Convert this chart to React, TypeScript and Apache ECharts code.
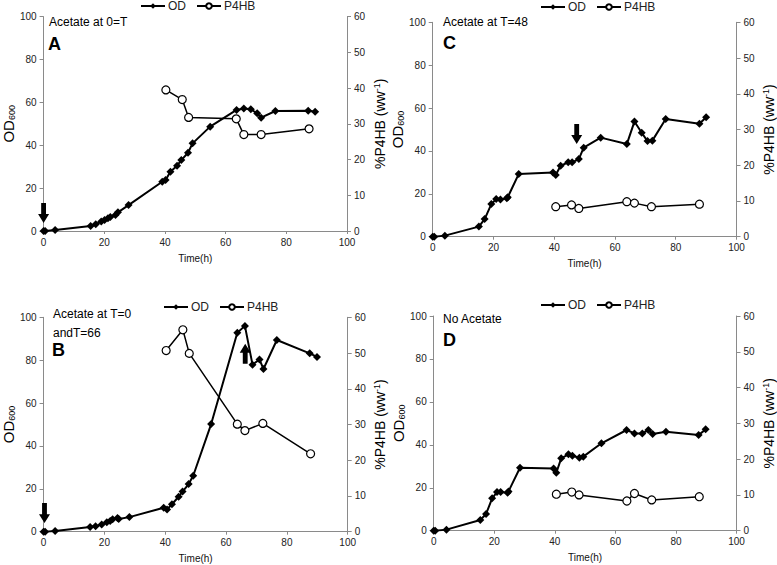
import React, { useEffect, useRef } from "react";
import * as echarts from "echarts";

// ---------- data ----------
const timeA = [0, 0.5, 3.8, 15.5, 17.2, 19, 20.1, 21.2, 22, 23.7, 24.5, 28, 39.1, 40.2, 41.8, 44, 45.4, 47.6, 49.1, 54.9, 63.6, 66, 68.3, 70.4, 71.7, 76.4, 87.2, 89.5];
const odA = [0, 0, 0.5, 2.3, 3.1, 4.4, 5.1, 5.9, 6.5, 7.5, 8.7, 12.1, 23, 23.8, 27.7, 30.5, 33.1, 36.5, 40.9, 48.7, 56.5, 57.2, 56.8, 54.9, 52.9, 56, 56.1, 55.7];
const pTimeA = [40.3, 45.7, 47.8, 63.5, 66, 71.7, 87.5];
const p4hbA = [39.5, 36.8, 31.8, 31.4, 27, 27, 28.6];

const timeB = [0, 0.5, 3.8, 15.3, 17.1, 19.1, 20.8, 21.9, 22.7, 24.3, 24.7, 28.2, 39.5, 40.6, 42.2, 44.4, 45.7, 47.7, 49.2, 55.1, 63.7, 66.2, 68.7, 71, 72.3, 76.7, 87.5, 89.9];
const odB = [0, 0, 0.3, 2.2, 2.5, 3.4, 4.4, 5, 5.8, 6.4, 5.9, 6.8, 11.2, 10.4, 12.8, 16.3, 18.7, 22.2, 26.1, 50.2, 92.8, 96, 77.9, 80.3, 75.9, 89.4, 83.2, 81.5];
const pTimeB = [40.3, 45.8, 47.9, 63.7, 66.2, 72.1, 87.8];
const p4hbB = [50.7, 56.5, 49.9, 30.1, 28.3, 30.3, 21.8];

const timeC = [0, 0.5, 4, 15.2, 17.1, 19.3, 20.9, 22.3, 24.4, 24.7, 28.3, 39.6, 40.5, 42.1, 44.6, 45.9, 48.1, 49.7, 55.3, 63.9, 66.4, 68.8, 70.7, 72.3, 76.7, 87.8, 90];
const odC = [0, 0, 0.5, 4.7, 8.2, 15.2, 17.6, 17.4, 17.9, 18.4, 29.2, 29.9, 28.8, 33.1, 34.7, 34.7, 36.2, 41.5, 46.2, 43.2, 53.7, 48.5, 44.6, 44.8, 54.9, 52.7, 55.7];
const pTimeC = [40.5, 45.7, 48.1, 63.9, 66.4, 72, 87.8];
const p4hbC = [8.4, 8.9, 7.9, 9.8, 9.4, 8.4, 9.1];

const timeD = [0, 0.5, 4.2, 15.4, 17.3, 19.3, 20.9, 22.1, 24.4, 24.7, 28.5, 39.6, 40.5, 42.1, 44.5, 45.8, 48.1, 49.4, 55.4, 63.7, 66.3, 68.9, 70.9, 72.3, 76.7, 87.5, 89.8];
const odD = [0, 0, 0.5, 5, 7.8, 15.1, 18, 18, 17.7, 18.3, 29.3, 29, 27, 33.7, 35.6, 34.9, 34, 34.5, 40.7, 46.9, 45.3, 45.3, 46.9, 45, 46.1, 44.6, 47.2];
const pTimeD = [40.5, 45.6, 48, 63.8, 66.3, 72, 87.7];
const p4hbD = [10.2, 10.8, 10, 8.3, 10.4, 8.6, 9.5];

// acetate addition arrows: [time, OD position, direction]
const arrowsA = [[0, 8.4, "down"]];
const arrowsB = [[0.3, 8.7, "down"], [66.3, 83, "up"]];
const arrowsC = [[47.4, 47.9, "down"]];
const arrowsD: any[] = [];

const seriesNames = ["OD", "P4HB"];
const odTicks = { min: 0, max: 100, interval: 20 };
const pTicks = { min: 0, max: 60, interval: 10 };
const timeTicks = { min: 0, max: 100, interval: 20 };

// ---------- layout ----------
const FONT = "'Liberation Sans', Arial, Helvetica, sans-serif";
const DOWN = "path://M2.8,0 L7.2,0 L7.2,10 L10,10 L5,18 L0,10 L2.8,10 Z";
const UP = "path://M5,0 L10,8 L7.2,8 L7.2,18 L2.8,18 L2.8,8 L0,8 Z";

const panels = [
  { grid: { left: 40, top: 16.7, width: 307, height: 214.3 }, time: timeA, od: odA, pt: pTimeA, p: p4hbA, arrows: arrowsA, legend: { left: 140, top: 0 } },
  { grid: { left: 432.7, top: 22.3, width: 306.3, height: 214.4 }, time: timeC, od: odC, pt: pTimeC, p: p4hbC, arrows: arrowsC, legend: { left: 540, top: 1 } },
  { grid: { left: 41.7, top: 317.3, width: 306, height: 214.4 }, time: timeB, od: odB, pt: pTimeB, p: p4hbB, arrows: arrowsB, legend: { left: 163, top: 301 } },
  { grid: { left: 433.7, top: 316, width: 306.3, height: 214.7 }, time: timeD, od: odD, pt: pTimeD, p: p4hbD, arrows: arrowsD, legend: { left: 540, top: 299 } },
];

const labels = [
  { x: 49, y: 22, text: "Acetate at 0=T", size: 12, bold: false },
  { x: 48, y: 44, text: "A", size: 18, bold: true },
  { x: 443, y: 22, text: "Acetate at T=48", size: 12, bold: false },
  { x: 443, y: 43, text: "C", size: 18, bold: true },
  { x: 53, y: 314, text: "Acetate at T=0", size: 12, bold: false },
  { x: 53, y: 333, text: "andT=66", size: 12, bold: false },
  { x: 52, y: 350, text: "B", size: 18, bold: true },
  { x: 443, y: 319, text: "No Acetate", size: 12, bold: false },
  { x: 443, y: 340, text: "D", size: 18, bold: true },
];

const axisLine = { show: true, lineStyle: { color: "#8a8a8a", width: 1 } };
const axisTick = { show: true, length: 4, lineStyle: { color: "#8a8a8a" } };
const axisLabel = { color: "#222", fontSize: 10, fontFamily: FONT };

export default function App() {
  const ref = useRef<HTMLDivElement>(null);
  useEffect(() => {
    if (!ref.current) return;
    const chart = echarts.init(ref.current, undefined, { renderer: "svg" });
    const grid: any[] = [];
    const xAxis: any[] = [];
    const yAxis: any[] = [];
    const series: any[] = [];
    const legend: any[] = [];
    panels.forEach((pn, i) => {
      grid.push({ ...pn.grid, containLabel: false });
      xAxis.push({
        type: "value", gridIndex: i, ...timeTicks,
        name: "Time(h)", nameLocation: "middle", nameGap: 22,
        nameTextStyle: { color: "#111", fontSize: 10, fontFamily: FONT },
        axisLine, axisTick: { ...axisTick, length: 3 }, axisLabel: { ...axisLabel, margin: 6 }, splitLine: { show: false },
      });
      yAxis.push({
        type: "value", gridIndex: i, position: "left", ...odTicks,
        name: "{a|OD}{b|600}", nameLocation: "middle", nameGap: 27, nameRotate: 90,
        nameTextStyle: {
          fontFamily: FONT, color: "#000",
          rich: { a: { fontSize: 15, fontFamily: FONT, color: "#000" }, b: { fontSize: 9, fontFamily: FONT, color: "#000", verticalAlign: "bottom", padding: [6, 0, 0, 0] } },
        },
        axisLine, axisTick, axisLabel: { ...axisLabel, margin: 7 }, splitLine: { show: false },
      });
      yAxis.push({
        type: "value", gridIndex: i, position: "right", ...pTicks,
        name: "{a|%P4HB (ww}{s|-1}{a|)}", nameLocation: "middle", nameGap: 25, nameRotate: 90,
        nameTextStyle: {
          fontFamily: FONT, color: "#000",
          rich: { a: { fontSize: 14, fontFamily: FONT, color: "#000" }, s: { fontSize: 9, fontFamily: FONT, color: "#000", verticalAlign: "top", padding: [0, 0, 6, 0] } },
        },
        axisLine, axisTick, axisLabel: { ...axisLabel, margin: 7 }, splitLine: { show: false },
      });
      series.push({
        name: "OD", type: "line", xAxisIndex: i, yAxisIndex: 2 * i,
        data: pn.time.map((t, k) => [t, pn.od[k]]),
        symbol: "diamond", symbolSize: 8, showSymbol: true,
        itemStyle: { color: "#000" }, lineStyle: { color: "#000", width: 2 },
        markPoint: {
          silent: true,
          label: { show: false },
          itemStyle: { color: "#000" },
          data: pn.arrows.map((a: any) => ({
            coord: [a[0], a[1]],
            symbol: a[2] === "down" ? DOWN : UP,
            symbolSize: [11, 20],
            symbolKeepAspect: false,
          })),
        },
      });
      series.push({
        name: "P4HB", type: "line", xAxisIndex: i, yAxisIndex: 2 * i + 1,
        data: pn.pt.map((t, k) => [t, pn.p[k]]),
        symbol: "circle", symbolSize: 8, showSymbol: true,
        itemStyle: { color: "#fff", borderColor: "#000", borderWidth: 1.2 },
        lineStyle: { color: "#000", width: 1.5 },
      });
      legend.push({
        data: seriesNames, left: pn.legend.left, top: pn.legend.top, padding: 0,
        itemWidth: 24, itemHeight: 7, itemGap: 10,
        textStyle: { fontSize: 12, fontFamily: FONT, color: "#222", padding: [0, 0, 0, -2] },
      });
    });
    const graphic = labels.map((l) => ({
      type: "text", x: l.x, y: l.y, silent: true,
      style: {
        text: l.text, fill: "#000", fontSize: l.size, fontFamily: FONT,
        fontWeight: l.bold ? "bold" : "normal", verticalAlign: "middle", align: "left",
      },
    }));
    chart.setOption({
      animation: false,
      backgroundColor: "#fff",
      grid, xAxis, yAxis, series, legend, graphic,
    });
    return () => chart.dispose();
  }, []);
  return <div ref={ref} style={{ position: "absolute", left: 0, top: 0, width: 777, height: 565 }} />;
}
